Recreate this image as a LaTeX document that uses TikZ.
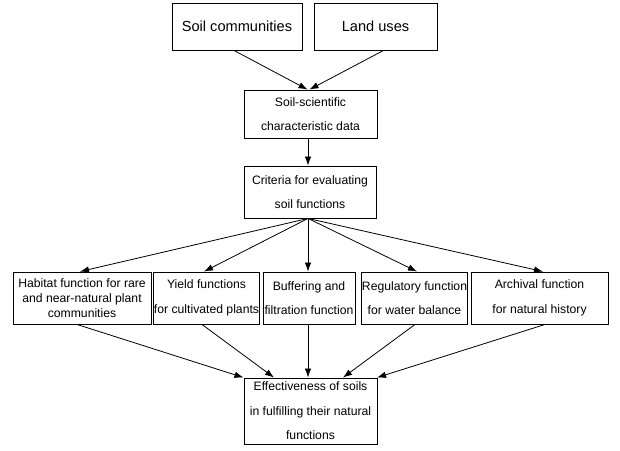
\documentclass[tikz,border=0pt]{standalone}
\usepackage{fontspec}
\setmainfont{Liberation Sans}
\usetikzlibrary{arrows.meta}
\begin{document}
\begin{tikzpicture}[x=1pt,y=-1pt,
  box/.style={draw, line width=0.9pt, inner sep=0pt, align=center,
    font=\fontsize{12.2}{24.5}\selectfont},
  bigbox/.style={box, font=\fontsize{14.6}{17}\selectfont},
  arr/.style={line width=0.8pt, -{Latex[length=9pt,width=6.5pt]}}]
\useasboundingbox[fill=white] (0,0) rectangle (620,450);
% top row
\node[bigbox, minimum width=130pt, minimum height=47pt] (sc) at (237,26.5) {Soil communities};
\node[bigbox, minimum width=123pt, minimum height=47pt] (lu) at (375.5,26.5) {Land uses};
% middle
\node[box, minimum width=133pt, minimum height=48pt] (ssd) at (310.5,114) {Soil-scientific\\characteristic data};
\node[box, minimum width=132pt, minimum height=52pt] (crit) at (310,192) {Criteria for evaluating\\soil functions};
% function row
\node[box, minimum width=138pt, minimum height=52pt, font=\fontsize{12.2}{15}\selectfont] (hab) at (82,298)
  {Habitat function for rare\\and near-natural plant\\communities};
\node[box, minimum width=105pt, minimum height=52pt] (yld) at (206.5,298) {Yield functions\\for cultivated plants};
\node[box, minimum width=92pt, minimum height=52pt] (buf) at (309,298) {Buffering and\\filtration function};
\node[box, minimum width=105pt, minimum height=52pt] (reg) at (414.5,298) {Regulatory function\\for water balance};
\node[box, minimum width=137pt, minimum height=52pt] (arc) at (539.5,298) {Archival function\\for natural history};
% bottom
\node[box, minimum width=133pt, minimum height=66pt] (eff) at (310.5,411)
  {Effectiveness of soils\\in fulfilling their natural\\functions};
% connectors
\draw[arr] ([xshift=-3pt]sc.south) -- ([xshift=-3pt]ssd.north);
\draw[arr] ([xshift=8pt]lu.south) -- ([xshift=-1pt]ssd.north);
\draw[arr] ([xshift=-2.5pt]ssd.south) -- ([xshift=-2pt]crit.north);
\draw[arr] ([xshift=-2pt]crit.south) -- ([xshift=-2pt]hab.north);
\draw[arr] ([xshift=-2pt]crit.south) -- ([xshift=-2.5pt]yld.north);
\draw[arr] ([xshift=-2pt]crit.south) -- ([xshift=-1pt]buf.north);
\draw[arr] ([xshift=-2pt]crit.south) -- ([xshift=2.5pt]reg.north);
\draw[arr] ([xshift=-2pt]crit.south) -- ([xshift=3.5pt]arc.north);
\draw[arr] ([xshift=-5pt]hab.south) -- ([xshift=-67pt]eff.north);
\draw[arr] ([xshift=-4.5pt]yld.south) -- ([xshift=-36.5pt]eff.north);
\draw[arr] ([xshift=-1pt]buf.south) -- ([xshift=-2.5pt]eff.north);
\draw[arr] ([xshift=0.5pt]reg.south) -- ([xshift=32.5pt]eff.north);
\draw[arr] ([xshift=5.5pt]arc.south) -- ([xshift=66.5pt]eff.north);
\end{tikzpicture}
\end{document}
